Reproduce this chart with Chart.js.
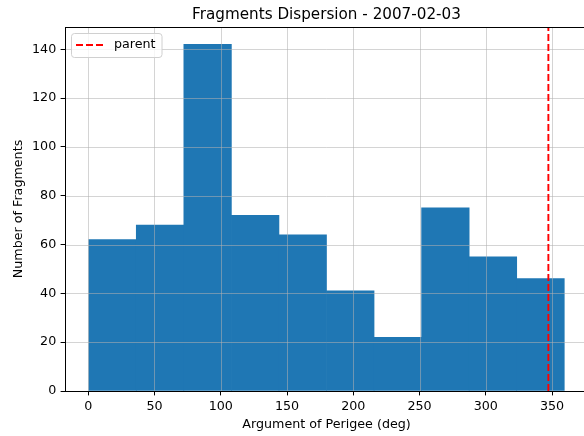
<!DOCTYPE html>
<html lang="en">
<head>
    <meta charset="UTF-8">
    <title>Fragments Dispersion - 2007-02-03</title>
    <script src="https://cdn.jsdelivr.net/npm/chart.js"></script>
    <style>
        html, body {
            margin: 0;
            padding: 0;
            background: #fff;
            overflow: hidden;
        }
        #wrap {
            width: 592px;
            height: 436px;
        }
    </style>
</head>
<body>
    <div id="wrap">
        <canvas id="histChart" width="592" height="436"></canvas>
    </div>

    <script>
        // Histogram bins (deg) and counts
        const binEdges = [0.4, 36.28, 72.16, 108.04, 143.92, 179.8, 215.68, 251.56, 287.44, 323.32, 359.2];
        const counts = [62, 68, 142, 72, 64, 41, 22, 75, 55, 46];
        const parentArgPerigee = 347.2;

        // Axis limits and ticks
        const xLimits = [-17.5, 377.1];
        const yLimits = [0, 149.1];
        const xTickStep = 50;
        const yTickStep = 20;

        const titleText = 'Fragments Dispersion - 2007-02-03';
        const xLabel = 'Argument of Perigee (deg)';
        const yLabel = 'Number of Fragments';
        const legendLabel = 'parent';

        const barColor = '#1f77b4';
        const font = 'DejaVu Sans';

        const barData = counts.map((c, i) => ({ x: (binEdges[i] + binEdges[i + 1]) / 2, y: c }));
        const parentData = [{ x: parentArgPerigee, y: yLimits[0] }, { x: parentArgPerigee, y: yLimits[1] }];

        // grid over the bars but under the parent line (like matplotlib)
        const gridPlugin = {
            id: 'gridOverBars',
            afterDatasetDraw(chart, args) {
                if (args.index !== 0) return;
                const { ctx, chartArea: a, scales: { x, y } } = chart;
                ctx.save();
                ctx.strokeStyle = 'rgba(176,176,176,0.55)';
                ctx.lineWidth = 1;
                ctx.beginPath();
                x.ticks.forEach(t => {
                    const px = Math.round(x.getPixelForValue(t.value)) + 0.5;
                    ctx.moveTo(px, a.top);
                    ctx.lineTo(px, a.bottom);
                });
                y.ticks.forEach(t => {
                    const py = Math.round(y.getPixelForValue(t.value)) + 0.5;
                    ctx.moveTo(a.left, py);
                    ctx.lineTo(a.right, py);
                });
                ctx.stroke();
                ctx.restore();
            }
        };

        // title, top/right spines, legend box
        const decorPlugin = {
            id: 'decor',
            afterDraw(chart) {
                const { ctx, chartArea: a } = chart;
                ctx.save();
                ctx.strokeStyle = '#000';
                ctx.lineWidth = 1;
                ctx.strokeRect(a.left + 0.5, a.top + 0.5, a.right - a.left - 1, a.bottom - a.top);

                ctx.fillStyle = '#000';
                ctx.font = '15.2px "' + font + '"';
                ctx.textAlign = 'center';
                ctx.textBaseline = 'alphabetic';
                ctx.fillText(titleText, (a.left + a.right) / 2, 19);

                // legend
                const lx = 71, ly = 33.5, lw = 90.5, lh = 24;
                ctx.beginPath();
                ctx.roundRect(lx + 0.5, ly, lw, lh, 3);
                ctx.fillStyle = 'rgba(255,255,255,0.8)';
                ctx.fill();
                ctx.strokeStyle = '#d0d0d0';
                ctx.stroke();

                ctx.beginPath();
                ctx.setLineDash([7, 3]);
                ctx.strokeStyle = 'red';
                ctx.lineWidth = 1.9;
                ctx.moveTo(76, 45);
                ctx.lineTo(104, 45);
                ctx.stroke();
                ctx.setLineDash([]);

                ctx.fillStyle = '#000';
                ctx.font = '12.7px "' + font + '"';
                ctx.textAlign = 'left';
                ctx.textBaseline = 'middle';
                ctx.fillText(legendLabel, 114, 45);
                ctx.restore();
            }
        };

        const ctx = document.getElementById('histChart').getContext('2d');
        new Chart(ctx, {
            type: 'bar',
            data: {
                datasets: [{
                    type: 'bar',
                    data: barData,
                    backgroundColor: barColor,
                    borderWidth: 0,
                    barPercentage: 1,
                    categoryPercentage: 1,
                    order: 2
                }, {
                    type: 'line',
                    data: parentData,
                    borderColor: 'red',
                    borderWidth: 1.9,
                    borderDash: [7, 3],
                    pointRadius: 0,
                    fill: false,
                    order: 1
                }]
            },
            options: {
                responsive: false,
                animation: false,
                layout: { padding: { top: 27, right: 4, left: 0, bottom: 0 } },
                plugins: {
                    legend: { display: false },
                    title: { display: false },
                    tooltip: { enabled: false }
                },
                scales: {
                    x: {
                        type: 'linear',
                        min: xLimits[0],
                        max: xLimits[1],
                        offset: false,
                        grid: { offset: false, drawOnChartArea: false, tickLength: 4.4, tickColor: '#000', tickWidth: 1 },
                        border: { display: true, color: '#000', width: 1 },
                        ticks: {
                            stepSize: xTickStep,
                            includeBounds: false,
                            padding: 3.5,
                            color: '#000',
                            font: { family: font, size: 12.7 },
                            maxRotation: 0
                        },
                        title: {
                            display: true,
                            text: xLabel,
                            color: '#000',
                            font: { family: font, size: 12.7 },
                            padding: { top: 0, bottom: 3.4 }
                        },
                        afterFit(scale) { scale.height = 45; }
                    },
                    y: {
                        min: yLimits[0],
                        max: yLimits[1],
                        grid: { drawOnChartArea: false, tickLength: 4.4, tickColor: '#000', tickWidth: 1 },
                        border: { display: true, color: '#000', width: 1 },
                        ticks: {
                            stepSize: yTickStep,
                            includeBounds: false,
                            padding: 4.4,
                            color: '#000',
                            font: { family: font, size: 12.7 }
                        },
                        title: {
                            display: true,
                            text: yLabel,
                            color: '#000',
                            font: { family: font, size: 12.7 },
                            padding: { top: 11, bottom: 0 }
                        },
                        afterFit(scale) { scale.width = 65; }
                    }
                }
            },
            plugins: [gridPlugin, decorPlugin]
        });
    </script>
</body>
</html>
